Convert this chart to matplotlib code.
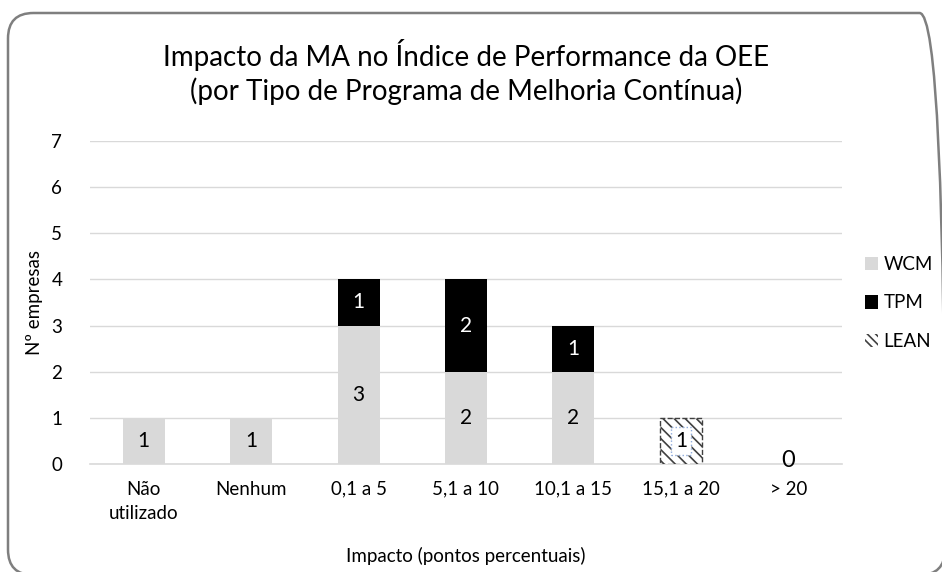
import matplotlib.pyplot as plt
from matplotlib.patches import FancyBboxPatch, Patch
import numpy as np

plt.rcParams['font.family'] = ['Lato', 'DejaVu Sans']
plt.rcParams['hatch.linewidth'] = 1.2

categorias = ['Não\nutilizado', 'Nenhum', '0,1 a 5', '5,1 a 10', '10,1 a 15', '15,1 a 20', '> 20']
wcm = [1, 1, 3, 2, 2, 0, 0]
tpm = [0, 0, 1, 2, 1, 0, 0]
lean = [0, 0, 0, 0, 0, 1, 0]

fig = plt.figure(figsize=(9.42, 5.72), dpi=100)
ax = fig.add_axes([90 / 942, 1 - 464 / 572, 752 / 942, (464 - 141) / 572])

x = np.arange(len(categorias))
w = 0.39
wcm_a = np.array(wcm)
tpm_a = np.array(tpm)
lean_a = np.array(lean)
base = wcm_a + tpm_a

m = wcm_a > 0
ax.bar(x[m], wcm_a[m], w, color='#d9d9d9', zorder=3)
m = tpm_a > 0
ax.bar(x[m], tpm_a[m], w, bottom=wcm_a[m], color='black', zorder=3)
m = lean_a > 0
ax.bar(x[m], lean_a[m], w, bottom=base[m], color='white', edgecolor='#404040', hatch='\\\\\\',
       linestyle='--', linewidth=1, zorder=3)

fs = 15
for i in range(len(x)):
    if wcm[i] > 0:
        ax.text(x[i], wcm[i] / 2, str(wcm[i]), ha='center', va='center', fontsize=fs, color='black', zorder=4)
    if tpm[i] > 0:
        ax.text(x[i], wcm[i] + tpm[i] / 2, str(tpm[i]), ha='center', va='center', fontsize=fs, color='white', zorder=4)
    if lean[i] > 0:
        ax.text(x[i], base[i] + lean[i] / 2, str(lean[i]), ha='center', va='center', fontsize=fs,
                color='black', zorder=4,
                bbox=dict(facecolor='white', edgecolor='#8eaadb', linestyle=':', boxstyle='square,pad=0.2'))
    if wcm[i] + tpm[i] + lean[i] == 0:
        ax.text(x[i], 0.07, '0', ha='center', va='center', fontsize=17, color='black', zorder=4)

ax.set_xlim(-0.5, len(x) - 0.5)
ax.set_ylim(0, 7)
ax.set_yticks(range(8))
ax.set_xticks(x)
ax.set_xticklabels(categorias, fontsize=13.5, linespacing=1.5)
ax.tick_params(axis='both', length=0, labelsize=13.5)
ax.tick_params(axis='x', pad=12)
ax.tick_params(axis='y', pad=20)
ax.grid(axis='y', color='#d9d9d9', linewidth=1, zorder=0)
for s in ['top', 'right', 'left']:
    ax.spines[s].set_visible(False)
ax.spines['bottom'].set_color('#d9d9d9')
ax.spines['bottom'].set_linewidth(1.2)

ax.set_ylabel('Nº empresas', fontsize=13.5, labelpad=6)
ax.set_xlabel('Impacto (pontos percentuais)', fontsize=13.5, labelpad=18)

fig.text(466 / 942, 1 - 72 / 572, 'Impacto da MA no Índice de Performance da OEE\n(por Tipo de Programa de Melhoria Contínua)',
         ha='center', va='center', fontsize=20, linespacing=1.25)

handles = [Patch(facecolor='#d9d9d9', label='WCM'),
           Patch(facecolor='black', label='TPM'),
           Patch(facecolor='white', edgecolor='#404040', linewidth=0, hatch='\\\\\\\\', label='LEAN')]
fig.legend(handles=handles, loc='center left', bbox_to_anchor=(848 / 942, 1 - 303 / 572), frameon=False,
           fontsize=13.5, handlelength=0.7, handleheight=0.7, handletextpad=0.3, labelspacing=1.15)

box = FancyBboxPatch((8 / 942, -3 / 572), 937 / 942, 562 / 572, boxstyle='round,pad=0,rounding_size=0.027',
                     transform=fig.transFigure, facecolor='none', edgecolor='#7f7f7f', linewidth=1.8,
                     mutation_aspect=942 / 572, clip_on=False)
fig.patches.append(box)

fig.savefig('out.png', dpi=100)
